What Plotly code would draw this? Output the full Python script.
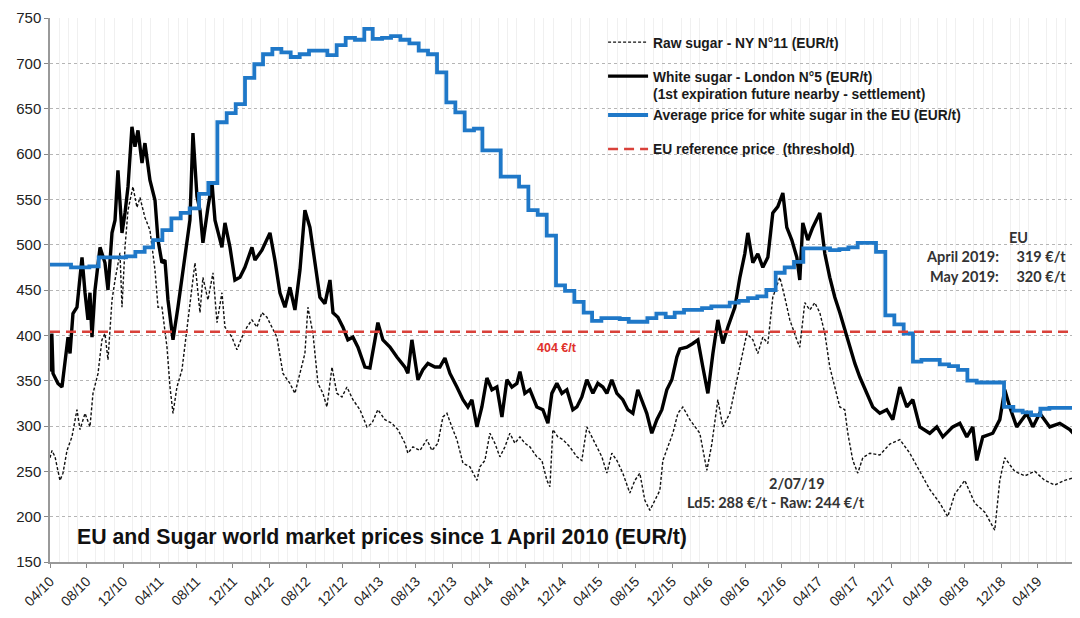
import numpy as np
import pandas as pd
import plotly.graph_objects as go

START = pd.Timestamp("2010-04-01")
DAYS_PER_MONTH = 30.4375

# ---- White sugar London N°5 (EUR/t): months since 1 April 2010, value ----
white_m = [0.0, 0.2, 0.33, 0.87, 1.31, 1.64, 1.97, 2.19, 2.51, 2.95, 3.5, 3.83, 4.15, 4.37, 4.59,
           4.92, 5.47, 6.01, 6.34, 6.78, 7.11, 7.43, 7.87, 8.2, 8.53, 8.96, 9.29, 9.62, 10.06, 10.38,
           10.93, 11.48, 11.81, 12.24, 12.57, 12.9, 13.45, 13.99, 14.54, 15.3, 15.63, 16.07, 16.4,
           16.72, 17.27, 17.71, 18.04, 18.8, 19.13, 19.68, 20.22, 20.77, 21.31, 22.08, 22.41, 23.17,
           24.05, 24.59, 25.14, 25.69, 26.23, 26.78, 27.33, 27.87, 28.42, 28.97, 29.51, 30.06, 30.61,
           30.94, 31.48, 32.03, 32.57, 33.12, 33.67, 34.43, 34.98, 35.53, 35.85, 36.4, 37.17, 37.93,
           38.81, 39.13, 39.57, 39.9, 40.23, 40.77, 41.32, 42.09, 42.63, 43.18, 43.73, 44.49, 45.15,
           45.69, 46.13, 46.68, 47.22, 47.77, 48.32, 48.86, 49.41, 49.96, 50.5, 51.05, 51.38, 51.92,
           52.47, 53.23, 53.89, 54.44, 54.87, 55.42, 55.97, 56.51, 57.17, 57.61, 58.15, 58.7, 59.36,
           59.9, 60.45, 60.89, 61.43, 61.98, 62.63, 63.18, 63.73, 64.27, 64.71, 65.25, 65.8, 66.35,
           66.9, 67.44, 67.99, 68.54, 68.87, 69.63, 70.29, 70.84, 71.38, 71.93, 72.48, 73.02, 73.57,
           74.11, 74.88, 75.43, 75.97, 76.3, 76.85, 77.39, 77.94, 78.49, 79.03, 79.58, 80.13, 80.56,
           81.11, 81.66, 81.98, 82.31, 82.86, 83.4, 84.17, 84.72, 85.26, 85.81, 86.36, 86.9, 87.45,
           88.0, 88.54, 89.31, 89.96, 90.73, 91.49, 92.15, 92.92, 93.68, 94.34, 95.1, 96.19, 96.96,
           97.62, 98.71, 99.48, 100.24, 100.9, 101.33, 101.99, 103.08, 103.85, 104.39, 104.94,
           105.7, 106.8, 107.46, 108.22, 109.31, 110.41, 111.5, 112.26]
white_v = [360, 402, 358, 347, 343, 373, 398, 380, 424, 431, 486, 447, 417, 447, 398,
           450, 497, 480, 450, 513, 527, 582, 513, 535, 564, 630, 608, 626, 590, 612,
           571, 549, 505, 480, 483, 439, 395, 431, 472, 527, 623, 553, 538,
           502, 541, 568, 527, 497, 524, 497, 461, 464, 475, 497, 483, 494,
           513, 483, 447, 431, 453, 428, 472, 538, 519, 483, 442, 435, 461,
           425, 420, 409, 395, 398, 387, 365, 364, 395, 414, 395, 387, 376,
           365, 358, 395, 373, 351, 362, 369, 365, 365, 375, 358, 343, 329,
           321, 329, 299, 321, 353, 340, 343, 310, 351, 343, 347, 360, 336,
           340, 321, 318, 303, 336, 347, 336, 340, 318, 321, 332, 351, 336,
           347, 343, 336, 351, 336, 329, 318, 314, 340, 329, 314, 292, 307,
           318, 340, 351, 376, 385, 387, 391, 395, 365, 336, 380, 417, 391,
           409, 431, 464, 490, 513, 480, 490, 475, 486, 535, 542, 557, 519,
           505, 486, 461, 524, 505, 519, 535, 490, 464, 442, 425, 406, 387,
           369, 354, 336, 321, 314, 318, 307, 343, 321, 329, 299, 292, 299,
           288, 299, 303, 288, 299, 262, 288, 292, 307, 340, 321,
           299, 314, 299, 314, 299, 303, 296, 288]

# ---- Raw sugar NY N°11 (EUR/t) ----
raw_m = [0.0, 0.22, 0.55, 1.09, 1.42, 1.86, 2.4, 2.95, 3.28, 3.83, 4.37, 4.7, 5.25, 5.68, 6.01,
         6.34, 6.78, 7.11, 7.65, 7.87, 8.2, 8.53, 9.07, 9.51, 9.84, 10.38, 10.93, 11.48, 11.81,
         12.24, 12.79, 13.12, 13.45, 13.88, 14.43, 14.98, 15.52, 15.85, 16.4, 16.72, 17.27, 17.82,
         18.26, 18.8, 19.13, 19.89, 20.44, 20.99, 21.53, 22.08, 22.63, 23.17, 23.72, 24.27, 24.81,
         25.47, 26.23, 26.78, 27.33, 27.87, 28.2, 28.75, 29.3, 29.84, 30.28, 30.83, 31.37, 31.92,
         32.47, 33.12, 33.89, 34.65, 35.2, 35.85, 36.62, 37.38, 38.04, 38.81, 39.13, 39.68, 40.45,
         41.21, 41.76, 42.41, 42.96, 43.4, 43.94, 44.49, 45.15, 45.91, 46.68, 47.0, 47.55, 48.1,
         48.64, 49.19, 49.74, 50.28, 50.83, 51.38, 51.92, 52.47, 53.23, 53.78, 54.33, 54.66, 54.98,
         55.53, 56.08, 56.84, 57.61, 58.15, 58.7, 59.25, 59.79, 60.34, 60.89, 61.43, 61.98, 62.63,
         63.4, 63.95, 64.49, 65.04, 65.59, 66.13, 66.68, 67.01, 67.55, 68.1, 68.65, 69.19, 69.96,
         71.05, 71.82, 72.36, 73.02, 73.57, 74.33, 75.43, 76.19, 76.85, 77.39, 77.94, 78.49, 79.03,
         79.8, 80.34, 80.89, 81.66, 81.98, 82.53, 83.08, 83.62, 84.17, 84.72, 85.26, 85.81, 86.36,
         86.9, 87.23, 87.78, 88.32, 88.87, 89.64, 90.73, 91.82, 92.92, 94.01, 95.1, 96.19, 97.29,
         98.16, 98.93, 100.02, 101.11, 102.21, 103.3, 103.85, 104.39, 105.48, 106.58, 107.67,
         108.77, 109.86, 110.95, 112.26]
raw_v = [265, 273, 266, 240, 248, 273, 288, 318, 296, 314, 299, 336, 358, 395, 402,
         373, 439, 461, 491, 431, 497, 538, 564, 541, 552, 530, 516, 472, 431,
         431, 387, 343, 314, 343, 362, 409, 453, 480, 425, 464, 439, 469,
         414, 447, 409, 398, 384, 398, 409, 417, 409, 425, 420, 409, 398,
         358, 347, 336, 358, 380, 431, 402, 347, 336, 321, 365, 336, 332,
         343, 329, 318, 299, 303, 318, 307, 303, 296, 281, 270, 277, 273,
         285, 273, 281, 310, 314, 299, 285, 259, 255, 240, 255, 262, 292,
         281, 266, 277, 292, 281, 288, 281, 277, 266, 262, 240, 233, 296,
         288, 285, 277, 266, 262, 299, 288, 277, 266, 248, 270, 262, 248,
         226, 240, 248, 218, 207, 218, 229, 262, 277, 292, 314, 321, 307,
         292, 251, 280, 329, 299, 314, 365, 402, 395, 380, 398, 391, 442,
         464, 442, 417, 395, 387, 436, 428, 436, 425, 402, 365, 343, 321,
         318, 292, 262, 248, 265, 270, 268, 280, 285, 270, 250, 230, 215,
         200, 225, 240, 215, 205, 185, 240, 265, 250, 245, 250,
         240, 235, 240, 244]

# ---- Average EU white sugar price (EUR/t), monthly from April 2010 ----
eu_values = [478, 478, 475, 475, 476, 486, 486, 486, 487, 492, 497, 505, 516, 529, 535, 540,
             556, 568, 635, 645, 655, 684, 699, 710, 716, 712, 707, 710, 714, 714, 709, 720,
             728, 726, 738, 727, 728, 730, 726, 722, 714, 710, 690, 657, 646, 626, 628, 604,
             604, 575, 575, 564, 538, 533, 510, 455, 449, 437, 425, 416, 419, 419, 418, 415,
             415, 419, 424, 420, 425, 428, 428, 430, 432, 432, 436, 438, 441, 443, 450, 469,
             475, 481, 496, 496, 496, 494, 495, 497, 502, 502, 492, 422, 412, 402, 371, 373,
             373, 368, 366, 362, 350, 348, 348, 348, 321, 317, 315, 312, 319, 320, 320, 320]
eu_end = "2019-07-25"

# ---- EU reference price (threshold) ----
ref_price = 404
ref_dates = ["2010-04-01", "2019-08-14"]

y_ticks = list(range(150, 751, 50))


def to_dates(months):
    return START + pd.to_timedelta(np.array(months) * DAYS_PER_MONTH, unit="D")


white_x = to_dates(white_m)
raw_x = to_dates(raw_m)
eu_x = list(pd.date_range("2010-04-01", periods=len(eu_values), freq="MS") + pd.Timedelta(days=9))
eu_x[0] = START
eu_x = eu_x + [pd.Timestamp(eu_end)]
eu_y = eu_values + [eu_values[-1]]

FONT = "Liberation Sans, Arial, sans-serif"
LEG = dict(family=FONT, size=13.8, color="#1a1a1a", weight="bold")

fig = go.Figure()
fig.add_trace(go.Scatter(x=raw_x, y=raw_v, mode="lines", name="Raw sugar - NY N°11 (EUR/t)",
                         line=dict(color="#111111", width=1.4, dash="3px,2px"),
                         legendgroup="a"))
fig.add_trace(go.Scatter(x=white_x, y=white_v, mode="lines",
                         name="White sugar - London N°5 (EUR/t)<br>(1st expiration future nearby - settlement)",
                         line=dict(color="#000000", width=3.4), legendgroup="b"))
fig.add_trace(go.Scatter(x=eu_x, y=eu_y, mode="lines", line_shape="hv",
                         name="Average price for white sugar in the EU (EUR/t)",
                         line=dict(color="#1F78C8", width=3.8), legendgroup="b"))
fig.add_trace(go.Scatter(x=pd.to_datetime(ref_dates), y=[ref_price, ref_price], mode="lines",
                         name="EU reference price  (threshold)",
                         line=dict(color="#D9413A", width=2.5, dash="10px,6px"), legendgroup="c"))

x_end = START + pd.Timedelta(days=112.4 * DAYS_PER_MONTH)

# the page body adds an 8px offset, so the figure is 8px smaller and margins shifted
fig.update_layout(
    width=1072, height=610,
    margin=dict(l=42, r=2, t=10, b=56),
    paper_bgcolor="white", plot_bgcolor="white",
    font=dict(family=FONT, size=13, color="#222222"),
    showlegend=True,
    legend=dict(x=0.538, y=0.984, xanchor="left", yanchor="top", bgcolor="rgba(0,0,0,0)",
                font=LEG, tracegroupgap=13, valign="top", itemwidth=40,
                traceorder="grouped"),
    xaxis=dict(range=[START, x_end], type="date", tick0="2010-04-01", dtick="M4",
               tickformat="%m/%y", tickangle=-45, ticks="outside", ticklen=4,
               tickcolor="#888888", showline=True, linecolor="#999999", linewidth=1.5,
               showgrid=False, tickfont=dict(size=14, color="#222222"),
               minor=dict(dtick="M1", showgrid=True, gridcolor="#f0f0f0", gridwidth=1)),
    yaxis=dict(range=[150, 750], tickvals=y_ticks, ticks="outside", ticklen=4,
               tickcolor="#888888", showline=True, linecolor="#999999", linewidth=1.5,
               showgrid=True, gridcolor="#b5b5b5", griddash="dot", gridwidth=1,
               tickfont=dict(size=15, color="#222222"), zeroline=False),
)

ANN = dict(family="Lato, Liberation Sans, sans-serif", size=14.5, color="#333333", weight="bold")
fig.add_annotation(xref="paper", yref="paper", x=0.024, y=0.046, xanchor="left", yanchor="middle",
                   text="EU and Sugar world market prices since 1 April 2010 (EUR/t)", showarrow=False,
                   font=dict(family=FONT, size=21.3, color="#111111", weight="bold"))
fig.add_annotation(xref="paper", yref="y", x=0.493, y=386, xanchor="center",
                   text="404 €/t", showarrow=False,
                   font=dict(family=FONT, size=12.5, color="#E0302A", weight="bold"))
fig.add_annotation(xref="paper", yref="y", x=0.942, y=508, xanchor="center",
                   text="EU", showarrow=False, font=ANN)
fig.add_annotation(xref="paper", yref="y", x=0.99, y=487, xanchor="right",
                   text="April 2019:\u00a0\u00a0\u00a0\u00a0 319 €/t", showarrow=False, font=ANN)
fig.add_annotation(xref="paper", yref="y", x=0.99, y=465, xanchor="right",
                   text="May 2019:\u00a0\u00a0\u00a0\u00a0 320 €/t", showarrow=False, font=ANN)
fig.add_annotation(xref="paper", yref="y", x=0.727, y=237, xanchor="center",
                   text="2/07/19", showarrow=False, font=ANN)
fig.add_annotation(xref="paper", yref="y", x=0.706, y=216, xanchor="center",
                   text="Ld5: 288 €/t - Raw: 244 €/t", showarrow=False, font=ANN)

fig.write_html("out.html")
